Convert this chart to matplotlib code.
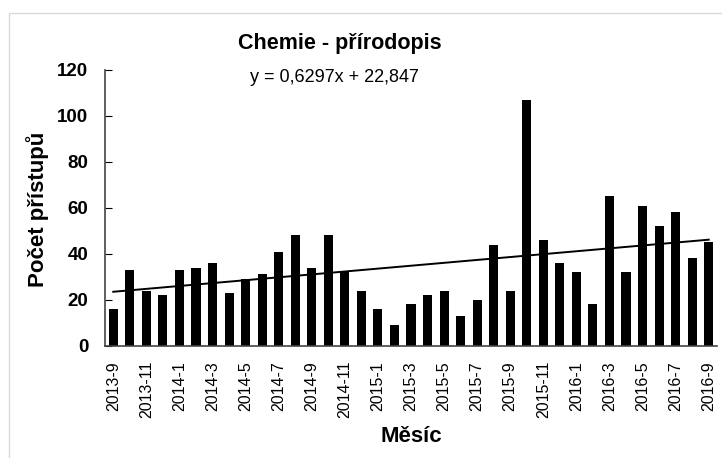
import numpy as np
import matplotlib.pyplot as plt
from matplotlib.patches import Rectangle

# Data: monthly counts 2013-9 .. 2016-9
mesice = []
for rok in (2013, 2014, 2015, 2016):
    for m in range(1, 13):
        if (rok == 2013 and m < 9) or (rok == 2016 and m > 9):
            continue
        mesice.append(f"{rok}-{m}")

pristupy = [16, 33, 24, 22, 33, 34, 36, 23, 29, 31, 41, 48, 34, 48, 32, 24,
            16, 9, 18, 22, 24, 13, 20, 44, 24, 107, 46, 36, 32, 18, 65, 32,
            61, 52, 58, 38, 45]

# Excel linear trend (x = 1..n)
k = 0.6297
q = 22.847

plt.rcParams['font.family'] = ['Liberation Sans', 'DejaVu Sans']

fig = plt.figure(figsize=(7.22, 4.58), dpi=100)
ax = fig.add_axes([105/722, 1 - 345.7/458, 612/722, 275.7/458])

x = np.arange(len(pristupy))
ax.bar(x, pristupy, width=0.55, color='black')

xt = np.arange(1, len(pristupy) + 1)
ax.plot(x, k*xt + q, color='black', linewidth=1.4)

ax.set_xlim(-0.5, len(pristupy) - 0.5)
ax.set_ylim(0, 120)
ax.set_yticks(np.arange(0, 121, 20))
ax.set_xticks(x[::2])
ax.set_xticklabels(mesice[::2], rotation=90, fontsize=11.5)
ax.tick_params(axis='x', length=0, pad=11)
ax.tick_params(axis='y', direction='in', length=5, labelsize=13.5, pad=12)
for t in ax.get_yticklabels():
    t.set_fontweight('bold')

for s in ('top', 'right'):
    ax.spines[s].set_visible(False)
for s in ('left', 'bottom'):
    ax.spines[s].set_color('#444444')
    ax.spines[s].set_linewidth(1.2)

fig.text(340/722, 1 - 43/458, 'Chemie - přírodopis', ha='center', va='center',
         fontsize=15.5, fontweight='bold')
fig.text(334/722, 1 - 77/458, 'y = 0,6297x + 22,847', ha='center', va='center',
         fontsize=13)
fig.text(38/722, 1 - 209/458, 'Počet přístupů', ha='center', va='center',
         rotation=90, fontsize=16, fontweight='bold')
fig.text(411/722, 1 - 437/458, 'Měsíc', ha='center', va='center',
         fontsize=16, fontweight='bold')

# light frame of the chart area
fig.patches.append(Rectangle((9/722, -0.1), 1.1, 1.1 - 13/458,
                             transform=fig.transFigure, fill=False,
                             edgecolor='#d9d9d9', linewidth=1))

fig.savefig('out.png', dpi=100)
